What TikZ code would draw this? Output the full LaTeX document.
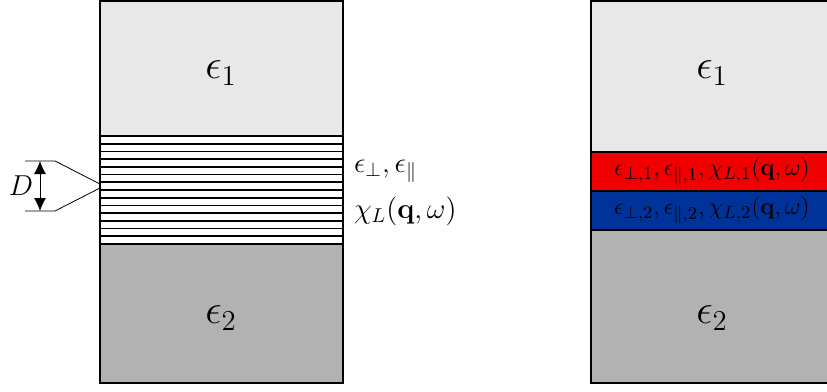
\documentclass[tikz,border=0pt]{standalone}
\usepackage{amsmath}
\usepackage{xcolor}
\usepackage{tikz}
\usetikzlibrary{arrows.meta}

\definecolor{layerred}{RGB}{240,0,0}
\definecolor{layerblue}{RGB}{0,51,153}

\begin{document}
\begin{tikzpicture}[x=0.5pt, y=-0.5pt,
    box/.style={draw, line width=0.8pt},
    big/.style={font=\fontsize{19.5}{22}\selectfont},
    lab/.style={font=\fontsize{13.6}{16}\selectfont, anchor=west}]
    \useasboundingbox (0,0) rectangle (827,392);
    % left: multilayer film
    \filldraw[box, fill=black!9] (100,0.8) rectangle (343,136);
    \filldraw[box, fill=black!30] (100,244) rectangle (343,383);
    \draw[box] (100,136) rectangle (343,244);
    \foreach \i in {1,...,13}
        \draw[line width=0.8pt] (100,136+\i*7.714) -- (343,136+\i*7.714);
    \node[big] (eone) at (221,73) {$\epsilon_1$};
    \node[big] (etwo) at (221,318) {$\epsilon_2$};
    \node[lab] (eperp) at (347,171) {$\epsilon_\perp, \epsilon_\parallel$};
    \node[lab] (chi) at (347,211) {$\chi_L(\mathbf{q},\omega)$};
    % period D
    \coordinate (dtop) at (40,161);
    \coordinate (dbot) at (40,211);
    \coordinate (tl) at (25,161);
    \coordinate (tr) at (55,161);
    \coordinate (bl) at (25,211);
    \coordinate (br) at (55,211);
    \coordinate (ftop) at (100,184);
    \coordinate (fbot) at (100,188);
    \draw[{Latex[length=6.5pt,width=6pt]}-{Latex[length=6.5pt,width=6pt]}] (dtop) -- (dbot);
    \draw (tl) -- (tr) -- (ftop);
    \draw (bl) -- (br) -- (fbot);
    \node[font=\fontsize{14}{16}\selectfont] (dlab) at (21,186) {$D$};
    % right: two effective layers
    \filldraw[box, fill=black!9] (591,0.8) rectangle (840,152);
    \filldraw[box, fill=layerred] (591,152) rectangle (840,191);
    \filldraw[box, fill=layerblue] (591,191) rectangle (840,230);
    \filldraw[box, fill=black!30] (591,230) rectangle (840,383);
    \node[big] (eoneb) at (712,73) {$\epsilon_1$};
    \node[big] (etwob) at (712,318) {$\epsilon_2$};
    \node[font=\fontsize{12.5}{15}\selectfont] (redlab) at (712,171) {$\epsilon_{\perp,1}, \epsilon_{\parallel,1}, \chi_{L,1}(\mathbf{q},\omega)$};
    \node[font=\fontsize{12.5}{15}\selectfont] (bluelab) at (712,210) {$\epsilon_{\perp,2}, \epsilon_{\parallel,2}, \chi_{L,2}(\mathbf{q},\omega)$};
\end{tikzpicture}
\end{document}
